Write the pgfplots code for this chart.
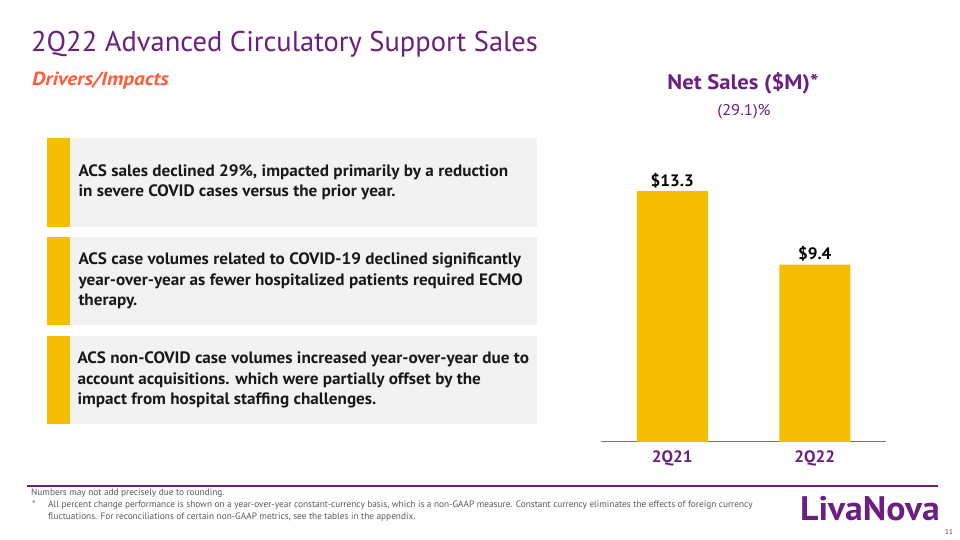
\documentclass[border=0pt]{standalone}
\usepackage{pgfplots}
\pgfplotsset{compat=1.18}
\usepackage{fontspec}
\setmainfont{PT Sans}
\newfontfamily\sfa[FakeStretch=1.04]{PT Sans}
\newfontfamily\sfb[FakeStretch=1.08]{PT Sans}
\newfontfamily\sfc[FakeStretch=1.12]{PT Sans}
\newfontfamily\sfd[FakeStretch=1.05]{PT Sans}
\definecolor{lnpurple}{HTML}{6B1F7E}
\definecolor{lnorange}{HTML}{FF5C39}
\definecolor{lnyellow}{HTML}{F5BE00}
\definecolor{boxgray}{HTML}{F2F2F2}
\definecolor{foot}{HTML}{595959}
\begin{document}
\begin{tikzpicture}
\begin{scope}[x=1pt,y=1pt]
\fill[white] (0,0) rectangle (960,540);
% title
\node[anchor=base west,inner sep=0,text=lnpurple,font=\fontsize{28.5}{30}\selectfont] at (31,488) {2Q22 Advanced Circulatory Support Sales};
\node[anchor=base west,inner sep=0,text=lnorange,font=\sfc\fontsize{19}{20}\selectfont\bfseries\itshape] at (32,454.3) {Drivers/Impacts};
% boxes
\foreach \t/\b in {138.3/226.7,237.3/325,336/424}{
  \fill[boxgray] (46.7,540-\t) rectangle (537,540-\b);
  \fill[lnyellow] (46.7,540-\t) rectangle (70,540-\b);
}
\tikzset{bt/.style={anchor=base west,inner sep=0,font=\sfa\fontsize{16.5}{18}\selectfont\bfseries,text=black!90}}
\node[bt] at (78.3,540-176.5) {ACS sales declined 29\%, impacted primarily by a reduction};
\node[bt] at (78.3,540-196.7) {in severe COVID cases versus the prior year.};
\node[bt] at (78.3,540-265) {ACS case volumes related to COVID-19 declined significantly};
\node[bt] at (78.3,540-285.7) {year-over-year as fewer hospitalized patients required ECMO};
\node[bt] at (78.3,540-306) {therapy.};
\node[bt] at (77.3,540-364) {ACS non-COVID case volumes increased year-over-year due to};
\node[bt] at (77.3,540-384.7) {account acquisitions. which were partially offset by the};
\node[bt] at (77.3,540-405) {impact from hospital staffing challenges.};
% chart title
\node[anchor=base,inner sep=0,text=lnpurple,font=\sfb\fontsize{21}{22}\selectfont\bfseries] at (743,540-90) {Net Sales (\$M)*};
\node[anchor=base,inner sep=0,text=lnpurple,font=\sfb\fontsize{15.5}{16}\selectfont] at (744,540-115.7) {(29.1)\%};
% footer
\draw[lnpurple,line width=2pt] (27,540-486) -- (938,540-486);
\tikzset{ft/.style={anchor=base west,inner sep=0,font=\fontsize{9.3}{10}\selectfont,text=foot}}
\node[ft] at (31,540-496) {Numbers may not add precisely due to rounding.};
\node[ft] at (32,540-508) {*};
\node[ft] at (48,540-508) {All percent change performance is shown on a year-over-year constant-currency basis, which is a non-GAAP measure. Constant currency eliminates the effects of foreign currency};
\node[ft] at (48,540-520) {fluctuations. For reconciliations of certain non-GAAP metrics, see the tables in the appendix.};
\node[anchor=base west,inner sep=0,text=lnpurple,font=\sfd\fontsize{34}{35}\selectfont\bfseries] at (800,540-521) {LivaNova};
\node[anchor=base west,inner sep=0,text=lnpurple,font=\fontsize{7}{8}\selectfont] at (945,540-535) {11};
\end{scope}
\begin{axis}[
  at={(601pt,98pt)}, anchor=south west,
  scale only axis, width=285pt, height=264pt,
  xmin=-0.5, xmax=1.5, ymin=0, ymax=14,
  axis x line=bottom, axis y line=none,
  axis line style={-, draw=black!55, line width=1pt},
  xtick=data, xticklabels={2Q21,2Q22},
  major tick length=0pt,
  xticklabel style={anchor=base, yshift=-20.7pt, text=lnpurple, font=\sfa\fontsize{16.5}{17}\selectfont\bfseries},
  ytick=\empty,
  ybar, bar width=71pt,
  clip=false,
  /pgf/number format/assume math mode=true,
  nodes near coords={\$\pgfmathprintnumber[fixed,precision=1,fixed zerofill]{\pgfplotspointmeta}},
  nodes near coords style={anchor=base, yshift=5pt, text=black, font=\sfa\fontsize{16.5}{17}\selectfont\bfseries},
]
\addplot[fill=lnyellow, draw=none] coordinates {(0,13.3) (1,9.4)};
\end{axis}
\end{tikzpicture}
\end{document}
